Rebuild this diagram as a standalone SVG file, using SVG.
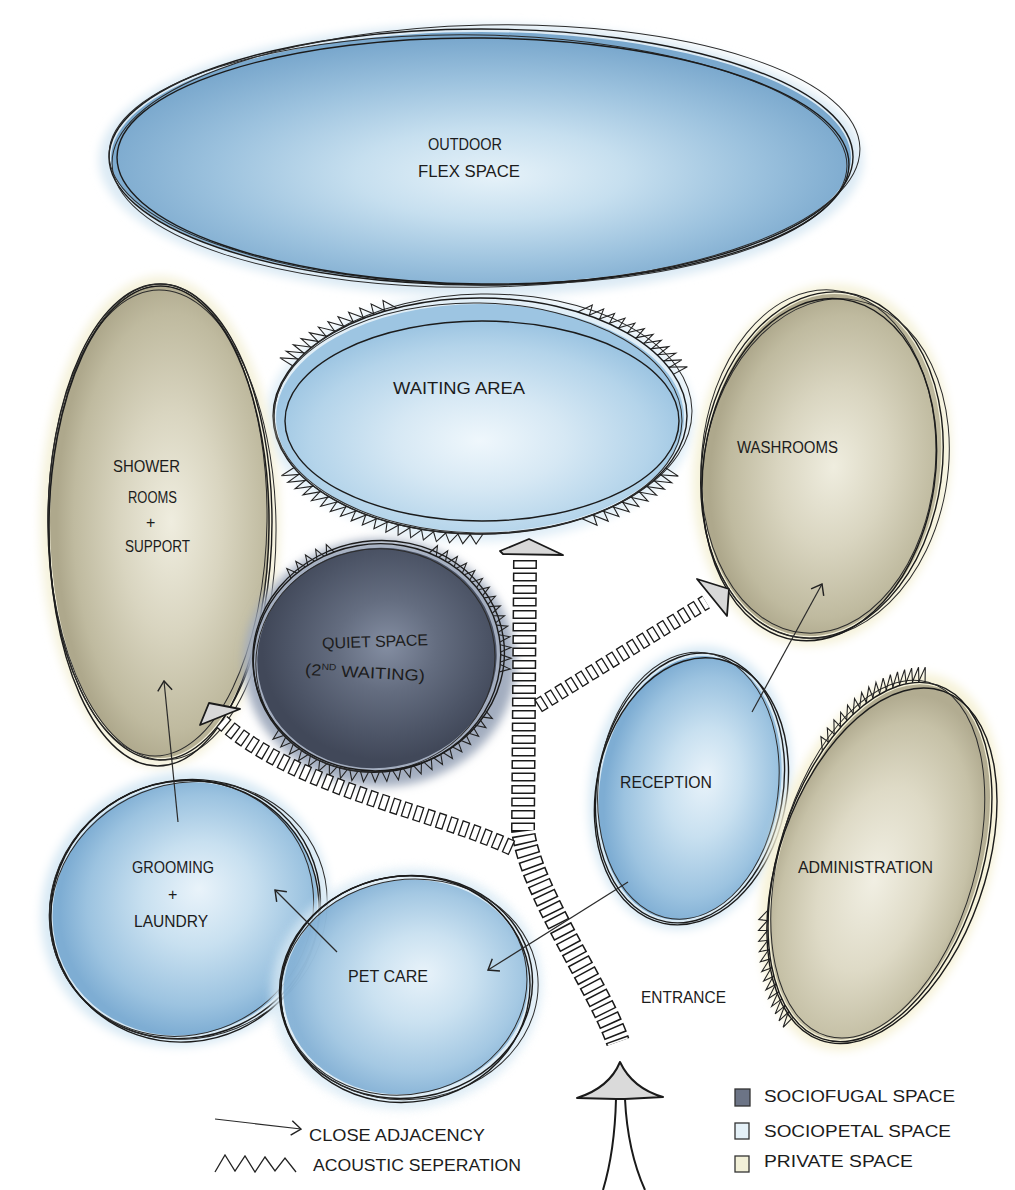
<svg xmlns="http://www.w3.org/2000/svg" width="1015" height="1190" viewBox="0 0 1015 1190">
<defs>
<style>
.k{fill:none;stroke:#1b1b1b;stroke-width:1.4}
.k2{fill:none;stroke:#2b2b2b;stroke-width:1}
.t{font-family:"Liberation Sans",Arial,sans-serif;fill:#1c1c1c;font-size:16px}
.lb{fill:none;stroke:#1a1a1a;stroke-linecap:butt}
.lw{fill:none;stroke:#ffffff;stroke-linecap:butt}
.ah{fill:#d8d8d8;stroke:#1a1a1a;stroke-width:1.8;stroke-linejoin:round}
.adj{fill:none;stroke:#2a2a2a;stroke-width:1.2;marker-end:url(#open)}
.ln2{fill:none;stroke:#1a1a1a;stroke-width:2}
</style>
<filter id="blur" x="-20%" y="-20%" width="140%" height="140%"><feGaussianBlur stdDeviation="5"/></filter>
<radialGradient id="gOut" cx="50%" cy="55%" r="52%" fx="52%" fy="57%">
<stop offset="0" stop-color="#e6f2f9"/><stop offset="0.35" stop-color="#c6dfef"/><stop offset="0.7" stop-color="#9cc2de"/><stop offset="1" stop-color="#7aa8cd"/>
</radialGradient>
<radialGradient id="gWait" cx="50%" cy="60%" r="52%">
<stop offset="0" stop-color="#eff7fc"/><stop offset="0.4" stop-color="#d6e8f4"/><stop offset="0.8" stop-color="#b4d4ea"/><stop offset="1" stop-color="#9dc5e2"/>
</radialGradient>
<radialGradient id="gBlue" cx="55%" cy="50%" r="52%" fx="58%" fy="45%">
<stop offset="0" stop-color="#e9f3fa"/><stop offset="0.4" stop-color="#c8e0f0"/><stop offset="0.8" stop-color="#9cc3e0"/><stop offset="1" stop-color="#7eadd3"/>
</radialGradient>
<radialGradient id="gKhaki" cx="55%" cy="50%" r="52%">
<stop offset="0" stop-color="#efeddf"/><stop offset="0.45" stop-color="#d9d5c0"/><stop offset="0.85" stop-color="#bfba9f"/><stop offset="1" stop-color="#aea88c"/>
</radialGradient>
<radialGradient id="gAdmin" cx="50%" cy="55%" r="52%">
<stop offset="0" stop-color="#f1efe3"/><stop offset="0.5" stop-color="#dedac6"/><stop offset="0.85" stop-color="#c6c1a7"/><stop offset="1" stop-color="#b2ac91"/>
</radialGradient>
<radialGradient id="gDark" cx="55%" cy="45%" r="52%">
<stop offset="0" stop-color="#848ea2"/><stop offset="0.4" stop-color="#646d80"/><stop offset="0.8" stop-color="#4c5466"/><stop offset="1" stop-color="#414859"/>
</radialGradient>
<path id="tz" d="M100,-3.2 L108.5,0 L100,3.2" fill="none" stroke="#222" stroke-width="1.1" vector-effect="non-scaling-stroke"/>
<marker id="open" viewBox="0 0 10 14" refX="9" refY="7" markerWidth="12" markerHeight="17" markerUnits="userSpaceOnUse" orient="auto">
<path d="M1,1 L9,7 L1,13" fill="none" stroke="#222" stroke-width="1.2"/>
</marker>
</defs>
<rect width="1015" height="1190" fill="#ffffff"/>

<g id="outdoor">
<ellipse cx="481" cy="160" rx="382" ry="136" fill="#dbeaf4" filter="url(#blur)"/>
<ellipse cx="481" cy="158" rx="370" ry="126" fill="url(#gOut)"/>
<ellipse class="k" cx="481" cy="157" rx="372" ry="128"/>
<ellipse class="k2" cx="478" cy="160" rx="369" ry="125" transform="rotate(1 478 160)"/>
<ellipse class="k2" cx="486" cy="156" rx="374" ry="131" transform="rotate(-1.2 486 156)"/>
<ellipse class="k" cx="483" cy="161" rx="366" ry="123" transform="rotate(0.6 483 161)"/>
<text class="t" x="428" y="150" font-size="14" textLength="74" lengthAdjust="spacingAndGlyphs">OUTDOOR</text>
<text class="t" x="418" y="177" font-size="15" textLength="102" lengthAdjust="spacingAndGlyphs">FLEX SPACE</text>
</g>

<g id="waiting">
<ellipse cx="480" cy="418" rx="214" ry="124" fill="#e0eef7" filter="url(#blur)"/>
<ellipse cx="480" cy="418" rx="204" ry="114" fill="url(#gWait)"/>
<ellipse class="k" cx="480" cy="416" rx="207" ry="118"/>
<ellipse class="k2" cx="478" cy="418" rx="204" ry="115" transform="rotate(1 478 418)"/>
<ellipse class="k2" cx="483" cy="414" rx="209" ry="120" transform="rotate(-1 483 414)"/>
<ellipse class="k" cx="482" cy="421" rx="197" ry="100"/>
<g transform="translate(480 416) scale(2.07 1.18)">
<use href="#tz" transform="rotate(207)"/><use href="#tz" transform="rotate(210.4)"/><use href="#tz" transform="rotate(213.8)"/><use href="#tz" transform="rotate(217.2)"/><use href="#tz" transform="rotate(220.6)"/><use href="#tz" transform="rotate(224)"/><use href="#tz" transform="rotate(227.4)"/><use href="#tz" transform="rotate(230.8)"/><use href="#tz" transform="rotate(234.2)"/><use href="#tz" transform="rotate(237.6)"/><use href="#tz" transform="rotate(241)"/><use href="#tz" transform="rotate(244.4)"/>
<use href="#tz" transform="rotate(300)"/><use href="#tz" transform="rotate(303.4)"/><use href="#tz" transform="rotate(306.8)"/><use href="#tz" transform="rotate(310.2)"/><use href="#tz" transform="rotate(313.6)"/><use href="#tz" transform="rotate(317)"/><use href="#tz" transform="rotate(320.4)"/><use href="#tz" transform="rotate(323.8)"/><use href="#tz" transform="rotate(327.2)"/><use href="#tz" transform="rotate(330.6)"/><use href="#tz" transform="rotate(334)"/><use href="#tz" transform="rotate(337.4)"/>
<use href="#tz" transform="rotate(91)"/><use href="#tz" transform="rotate(94.4)"/><use href="#tz" transform="rotate(97.8)"/><use href="#tz" transform="rotate(101.2)"/><use href="#tz" transform="rotate(104.6)"/><use href="#tz" transform="rotate(108)"/><use href="#tz" transform="rotate(111.4)"/><use href="#tz" transform="rotate(114.8)"/><use href="#tz" transform="rotate(118.2)"/><use href="#tz" transform="rotate(121.6)"/><use href="#tz" transform="rotate(125)"/><use href="#tz" transform="rotate(128.4)"/><use href="#tz" transform="rotate(131.8)"/><use href="#tz" transform="rotate(135.2)"/><use href="#tz" transform="rotate(138.6)"/><use href="#tz" transform="rotate(142)"/><use href="#tz" transform="rotate(145.4)"/><use href="#tz" transform="rotate(148.8)"/><use href="#tz" transform="rotate(152.2)"/>
<use href="#tz" transform="rotate(28)"/><use href="#tz" transform="rotate(31.4)"/><use href="#tz" transform="rotate(34.8)"/><use href="#tz" transform="rotate(38.2)"/><use href="#tz" transform="rotate(41.6)"/><use href="#tz" transform="rotate(45)"/><use href="#tz" transform="rotate(48.4)"/><use href="#tz" transform="rotate(51.8)"/><use href="#tz" transform="rotate(55.2)"/><use href="#tz" transform="rotate(58.6)"/>
</g>
<text class="t" x="393" y="394" font-size="17" textLength="132" lengthAdjust="spacingAndGlyphs">WAITING AREA</text>
</g>

<g id="shower">
<ellipse cx="160" cy="522" rx="120" ry="246" fill="#f5f2dc" filter="url(#blur)"/>
<ellipse cx="160" cy="522" rx="110" ry="236" fill="url(#gKhaki)"/>
<ellipse class="k" cx="160" cy="522" rx="112" ry="238"/>
<ellipse class="k2" cx="158" cy="520" rx="109" ry="236" transform="rotate(0.8 158 520)"/>
<ellipse class="k2" cx="162" cy="525" rx="114" ry="235" transform="rotate(-0.8 162 525)"/>
<ellipse class="k" cx="159" cy="526" rx="110" ry="240" transform="rotate(0.4 159 526)"/>
<text class="t" x="113" y="472" font-size="15" textLength="67" lengthAdjust="spacingAndGlyphs">SHOWER</text>
<text class="t" x="128" y="503" font-size="15" textLength="49" lengthAdjust="spacingAndGlyphs">ROOMS</text>
<text class="t" x="146" y="528" font-size="15">+</text>
<text class="t" x="125" y="552" font-size="15" textLength="65" lengthAdjust="spacingAndGlyphs">SUPPORT</text>
</g>

<g id="washrooms">
<g transform="rotate(8 822 465)">
<ellipse cx="822" cy="465" rx="128" ry="182" fill="#f5f2da" filter="url(#blur)"/>
<ellipse cx="822" cy="465" rx="118" ry="172" fill="url(#gKhaki)"/>
<ellipse class="k" cx="822" cy="465" rx="120" ry="174"/>
<ellipse class="k2" cx="818" cy="462" rx="117" ry="172" transform="rotate(-3 818 462)"/>
<ellipse class="k2" cx="826" cy="468" rx="122" ry="171" transform="rotate(2 826 468)"/>
<ellipse class="k" cx="820" cy="470" rx="116" ry="172"/>
</g>
<text class="t" x="737" y="453" font-size="15" textLength="101" lengthAdjust="spacingAndGlyphs">WASHROOMS</text>
</g>

<g id="quiet">
<ellipse cx="380" cy="663" rx="136" ry="124" fill="#a3adbf" filter="url(#blur)"/>
<g transform="rotate(-10 377 658)">
<ellipse cx="377" cy="658" rx="120" ry="110" fill="url(#gDark)"/>
<ellipse class="k" cx="377" cy="658" rx="124" ry="114"/>
<ellipse class="k2" cx="375" cy="660" rx="120" ry="111" transform="rotate(-3 375 660)"/>
<ellipse class="k" cx="379" cy="656" rx="126" ry="115" transform="rotate(2 379 656)"/>
</g>
<g transform="translate(377 658) rotate(-10) scale(1.24 1.14)">
<use href="#tz" transform="rotate(237)"/><use href="#tz" transform="rotate(242)"/><use href="#tz" transform="rotate(247)"/><use href="#tz" transform="rotate(252)"/><use href="#tz" transform="rotate(257)"/>
<use href="#tz" transform="rotate(306)"/><use href="#tz" transform="rotate(311)"/><use href="#tz" transform="rotate(316)"/><use href="#tz" transform="rotate(321)"/><use href="#tz" transform="rotate(326)"/><use href="#tz" transform="rotate(331)"/><use href="#tz" transform="rotate(336)"/><use href="#tz" transform="rotate(341)"/><use href="#tz" transform="rotate(346)"/><use href="#tz" transform="rotate(351)"/><use href="#tz" transform="rotate(356)"/><use href="#tz" transform="rotate(1)"/><use href="#tz" transform="rotate(6)"/><use href="#tz" transform="rotate(11)"/><use href="#tz" transform="rotate(16)"/>
<use href="#tz" transform="rotate(40)"/><use href="#tz" transform="rotate(45)"/><use href="#tz" transform="rotate(50)"/><use href="#tz" transform="rotate(55)"/><use href="#tz" transform="rotate(60)"/><use href="#tz" transform="rotate(65)"/><use href="#tz" transform="rotate(70)"/><use href="#tz" transform="rotate(75)"/><use href="#tz" transform="rotate(80)"/><use href="#tz" transform="rotate(85)"/><use href="#tz" transform="rotate(90)"/><use href="#tz" transform="rotate(95)"/><use href="#tz" transform="rotate(100)"/><use href="#tz" transform="rotate(105)"/><use href="#tz" transform="rotate(110)"/><use href="#tz" transform="rotate(115)"/><use href="#tz" transform="rotate(120)"/><use href="#tz" transform="rotate(125)"/><use href="#tz" transform="rotate(130)"/><use href="#tz" transform="rotate(135)"/><use href="#tz" transform="rotate(140)"/><use href="#tz" transform="rotate(145)"/><use href="#tz" transform="rotate(150)"/>
</g>
<text class="t" x="322" y="647" font-size="16" textLength="106" lengthAdjust="spacingAndGlyphs" transform="rotate(-2 375 642)">QUIET SPACE</text>
<text class="t" x="305" y="678" font-size="16" textLength="120" lengthAdjust="spacingAndGlyphs" transform="rotate(3 365 673)">(2<tspan font-size="9" dy="-6">ND</tspan><tspan dy="6"> WAITING)</tspan></text>
</g>

<g id="reception">
<g transform="rotate(10 690 788)">
<ellipse cx="690" cy="788" rx="100" ry="143" fill="#d8e9f4" filter="url(#blur)"/>
<ellipse cx="690" cy="788" rx="90" ry="133" fill="url(#gBlue)"/>
<ellipse class="k" cx="690" cy="788" rx="93" ry="136"/>
<ellipse class="k2" cx="688" cy="786" rx="90" ry="134" transform="rotate(-3 688 786)"/>
<ellipse class="k" cx="692" cy="791" rx="95" ry="135" transform="rotate(2 692 791)"/>
</g>
<text class="t" x="620" y="788" font-size="16" textLength="92" lengthAdjust="spacingAndGlyphs">RECEPTION</text>
</g>

<g id="admin">
<g transform="rotate(18 880 862)">
<ellipse cx="880" cy="862" rx="110" ry="195" fill="#f6f2d8" filter="url(#blur)"/>
<ellipse cx="880" cy="862" rx="99" ry="184" fill="url(#gAdmin)"/>
<ellipse class="k" cx="880" cy="862" rx="101" ry="186"/>
<ellipse class="k2" cx="877" cy="860" rx="98" ry="184" transform="rotate(-2 877 860)"/>
<ellipse class="k" cx="883" cy="865" rx="103" ry="185" transform="rotate(1.5 883 865)"/>
</g>
<g transform="translate(880 862) rotate(18) scale(1.01 1.86)">
<use href="#tz" transform="rotate(210)"/><use href="#tz" transform="rotate(213.4)"/><use href="#tz" transform="rotate(216.8)"/><use href="#tz" transform="rotate(220.2)"/><use href="#tz" transform="rotate(223.6)"/><use href="#tz" transform="rotate(227)"/><use href="#tz" transform="rotate(230.4)"/><use href="#tz" transform="rotate(233.8)"/><use href="#tz" transform="rotate(237.2)"/><use href="#tz" transform="rotate(240.6)"/><use href="#tz" transform="rotate(244)"/><use href="#tz" transform="rotate(247.4)"/><use href="#tz" transform="rotate(250.8)"/><use href="#tz" transform="rotate(254.2)"/><use href="#tz" transform="rotate(257.6)"/><use href="#tz" transform="rotate(261)"/>
<use href="#tz" transform="rotate(112)"/><use href="#tz" transform="rotate(115.4)"/><use href="#tz" transform="rotate(118.8)"/><use href="#tz" transform="rotate(122.2)"/><use href="#tz" transform="rotate(125.6)"/><use href="#tz" transform="rotate(129)"/><use href="#tz" transform="rotate(132.4)"/><use href="#tz" transform="rotate(135.8)"/><use href="#tz" transform="rotate(139.2)"/><use href="#tz" transform="rotate(142.6)"/><use href="#tz" transform="rotate(146)"/><use href="#tz" transform="rotate(149.4)"/><use href="#tz" transform="rotate(152.8)"/>
</g>
<text class="t" x="798" y="873" font-size="16" textLength="135" lengthAdjust="spacingAndGlyphs">ADMINISTRATION</text>
</g>

<g id="grooming">
<g transform="rotate(-25 185 909)">
<ellipse cx="185" cy="909" rx="146" ry="136" fill="#d8e9f4" filter="url(#blur)"/>
<ellipse cx="185" cy="909" rx="134" ry="125" fill="url(#gBlue)"/>
<ellipse class="k" cx="185" cy="909" rx="137" ry="128"/>
<ellipse class="k2" cx="182" cy="907" rx="134" ry="126" transform="rotate(-4 182 907)"/>
<ellipse class="k2" cx="188" cy="912" rx="140" ry="127" transform="rotate(3 188 912)"/>
<ellipse class="k" cx="184" cy="911" rx="135" ry="130"/>
</g>
<text class="t" x="132" y="873" font-size="16" textLength="82" lengthAdjust="spacingAndGlyphs">GROOMING</text>
<text class="t" x="168" y="900" font-size="14">+</text>
<text class="t" x="134" y="927" font-size="16" textLength="74" lengthAdjust="spacingAndGlyphs">LAUNDRY</text>
</g>

<g id="petcare">
<g transform="rotate(-10 406 987)">
<ellipse cx="406" cy="989" rx="136" ry="120" fill="#d8e9f4" filter="url(#blur)" opacity="0.8"/>
<ellipse cx="406" cy="987" rx="123" ry="107" fill="url(#gBlue)" fill-opacity="0.88"/>
<ellipse class="k" cx="406" cy="987" rx="127" ry="111"/>
<ellipse class="k2" cx="404" cy="985" rx="124" ry="109" transform="rotate(-3 404 985)"/>
<ellipse class="k2" cx="409" cy="990" rx="129" ry="110" transform="rotate(2 409 990)"/>
<ellipse class="k" cx="405" cy="989" rx="125" ry="113"/>
</g>
<text class="t" x="348" y="982" font-size="16" textLength="80" lengthAdjust="spacingAndGlyphs">PET CARE</text>
</g>

<g id="connectors">
<path class="lb" d="M525,560 L523,830 C530,890 598,985 618,1042" stroke-width="24" stroke-dasharray="9 3.5"/>
<path class="lw" d="M525,560 L523,830 C530,890 598,985 618,1042" stroke-width="21" stroke-dasharray="6 6.5" stroke-dashoffset="-1.5"/>
<path class="lb" d="M538,706 Q620,655 706,602" stroke-width="15" stroke-dasharray="8 4"/>
<path class="lw" d="M538,706 Q620,655 706,602" stroke-width="12.4" stroke-dasharray="5.4 6.6" stroke-dashoffset="-1.3"/>
<path class="lb" d="M512,848 C430,810 300,790 222,722" stroke-width="16" stroke-dasharray="8 4"/>
<path class="lw" d="M512,848 C430,810 300,790 222,722" stroke-width="13.4" stroke-dasharray="5.4 6.6" stroke-dashoffset="-1.3"/>
<path class="ah" d="M500,551 L529,539 L563,555 L503,554 Z"/>
<path class="ah" d="M697,579 L729,589 L727,616 Z"/>
<path class="ah" d="M200,725 L209,703 L240,709 Z"/>
<path class="adj" d="M178,822 L164,681"/>
<path class="adj" d="M337,952 L275,890"/>
<path class="adj" d="M628,882 L488,970"/>
<path class="adj" d="M752,712 L822,584"/>
</g>

<g id="entrance">
<path d="M616,1099 C615,1140 609,1170 603,1190 L645,1190 C636,1170 627,1140 625,1099 Z" fill="#ffffff"/>
<path class="ln2" d="M616,1099 C615,1140 609,1170 603,1190"/>
<path class="ln2" d="M625,1099 C627,1140 636,1170 645,1190"/>
<path d="M620,1062 C613,1079 599,1091 577,1098 L616,1099 L625,1099 L663,1097 C642,1091 628,1079 620,1062 Z" fill="#dadada" stroke="#1a1a1a" stroke-width="2" stroke-linejoin="round"/>
<text class="t" x="641" y="1003" font-size="16" textLength="85" lengthAdjust="spacingAndGlyphs">ENTRANCE</text>
</g>

<g id="legend">
<path class="adj" d="M215,1119 L301,1129"/>
<text class="t" x="309" y="1141" font-size="21" textLength="176" lengthAdjust="spacingAndGlyphs">CLOSE ADJACENCY</text>
<path d="M215,1172 L225,1155 L235,1171 L245,1156 L255,1172 L265,1157 L275,1171 L285,1158 L296,1172" fill="none" stroke="#222" stroke-width="1.3"/>
<text class="t" x="313" y="1171" font-size="19" textLength="208" lengthAdjust="spacingAndGlyphs">ACOUSTIC SEPERATION</text>
<rect x="735" y="1089" width="15" height="17" fill="#6c7486" stroke="#333" stroke-width="1.3"/>
<text class="t" x="764" y="1102" font-size="19" textLength="191" lengthAdjust="spacingAndGlyphs">SOCIOFUGAL SPACE</text>
<rect x="735" y="1123" width="14" height="16" fill="#e5f1f8" stroke="#333" stroke-width="1.3"/>
<text class="t" x="764" y="1137" font-size="19" textLength="187" lengthAdjust="spacingAndGlyphs">SOCIOPETAL SPACE</text>
<rect x="735" y="1156" width="14" height="16" fill="#f2f0d8" stroke="#333" stroke-width="1.3"/>
<text class="t" x="764" y="1167" font-size="19" textLength="149" lengthAdjust="spacingAndGlyphs">PRIVATE SPACE</text>
</g>
</svg>
